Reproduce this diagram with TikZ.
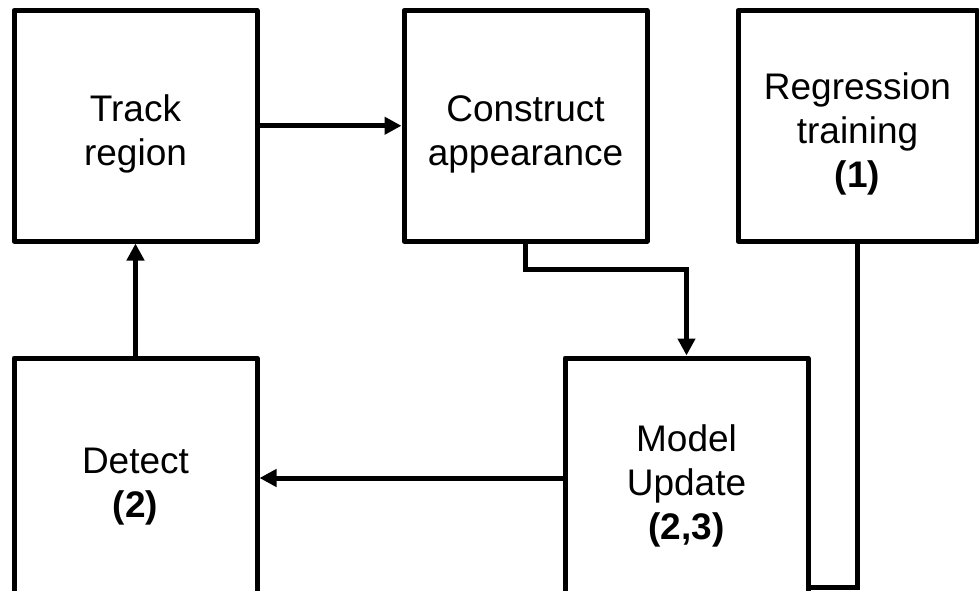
\documentclass[tikz,border=0pt]{standalone}
\usepackage{fontspec}
\setmainfont{Liberation Sans}
\usetikzlibrary{arrows.meta}
\newcommand{\dropline}{\rule{0pt}{43pt}}
\begin{document}
\begin{tikzpicture}[x=1pt,y=-1pt,
  box/.style={draw=black, line width=5pt, line join=round, fill=white, inner sep=0pt,
    align=center, font=\fontsize{37}{44}\selectfont},
  conn/.style={line width=5pt, line join=miter},
  arr/.style={conn, -{Triangle[length=17pt,width=17pt]}}]
\useasboundingbox (0,0) rectangle (979,590);
\node[box, minimum width=243pt, minimum height=230.5pt] (track) at (135.5,125.75) {\dropline Track\\region};
\node[box, minimum width=243pt, minimum height=230.5pt] (cons) at (525.5,125.75) {\dropline Construct\\appearance};
\node[box, minimum width=239pt, minimum height=230.5pt] (reg) at (857.5,125.75) {\dropline Regression\\training\\\textbf{(1)}};
\node[box, minimum width=243pt, minimum height=240pt] (det) at (135.5,478) {\dropline Detect\\\textbf{(2)}};
\node[box, minimum width=243pt, minimum height=240pt] (model) at (686.5,478) {\dropline Model\\Update\\\textbf{(2,3)}};
\coordinate (bend) at (857.5,587);
\draw[arr] (track.east) -- (cons.west);
\draw[arr] (det.north) -- (track.south);
\draw[arr] (model.west) -- (det.east);
\draw[arr] (cons.south) -- ++(0,26) -| (model.north);
\draw[conn] (reg.south) -- (bend) -- (bend -| model.east);
\end{tikzpicture}
\end{document}
